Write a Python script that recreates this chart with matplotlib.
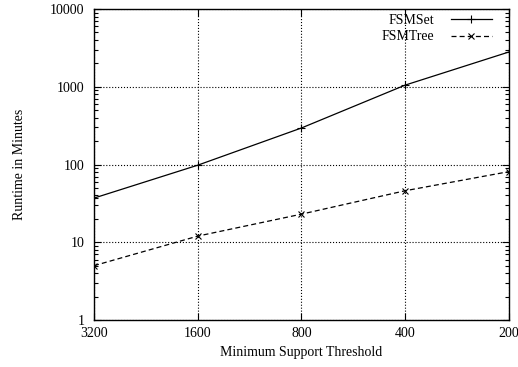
import matplotlib
matplotlib.use("Agg")
import matplotlib.pyplot as plt
from matplotlib.ticker import LogLocator, NullFormatter, FixedLocator

thresholds = ["3200", "1600", "800", "400", "200"]
fsmset = [37, 98, 295, 1050, 2800]
fsmtree = [5.0, 12, 23, 46, 81]

plt.rcParams['font.family'] = ['Liberation Serif', 'DejaVu Serif']
plt.rcParams['font.size'] = 10

fig = plt.figure(figsize=(5.18, 3.67), dpi=100)
ax = fig.add_axes([0.1815, 0.128, 0.801, 0.8475])

xs = list(range(len(thresholds)))
ax.plot(xs, fsmset, color='black', lw=0.9, marker='+', ms=6, mew=0.8,
        label='FSMSet')
ax.plot(xs, fsmtree, color='black', lw=0.9, ls=(0, (4, 2.5)), marker='x',
        ms=5, mew=0.8, label='FSMTree')

ax.set_yscale('log')
ax.set_ylim(1, 10000)
ax.set_xlim(0, len(thresholds) - 1)
ax.set_xticks(xs)
ax.set_xticklabels(thresholds)
ax.yaxis.set_major_locator(FixedLocator([1, 10, 100, 1000, 10000]))
ax.set_yticklabels(['1', '10', '100', '1000', '10000'])
ax.yaxis.set_minor_locator(LogLocator(base=10, subs=range(2, 10), numticks=20))
ax.yaxis.set_minor_formatter(NullFormatter())

ax.tick_params(which='both', direction='in', top=True, right=True, width=0.8)
ax.tick_params(which='major', length=5)
ax.tick_params(axis='x', which='major', pad=5)
ax.tick_params(axis='y', which='major', pad=7)
ax.tick_params(which='minor', length=3)
ax.grid(True, which='major', ls=':', color='black', lw=0.8)
for s in ax.spines.values():
    s.set_linewidth(1.0)

ax.set_xlabel('Minimum Support Threshold', labelpad=4)
ax.set_ylabel('Runtime in Minutes', labelpad=17)

ax.legend(loc='upper right', bbox_to_anchor=(0.959, 0.984), frameon=False,
          markerfirst=False, handlelength=2.95, borderaxespad=0, borderpad=0,
          labelspacing=0.25, handletextpad=1.2)

fig.savefig('out.png', dpi=100)
